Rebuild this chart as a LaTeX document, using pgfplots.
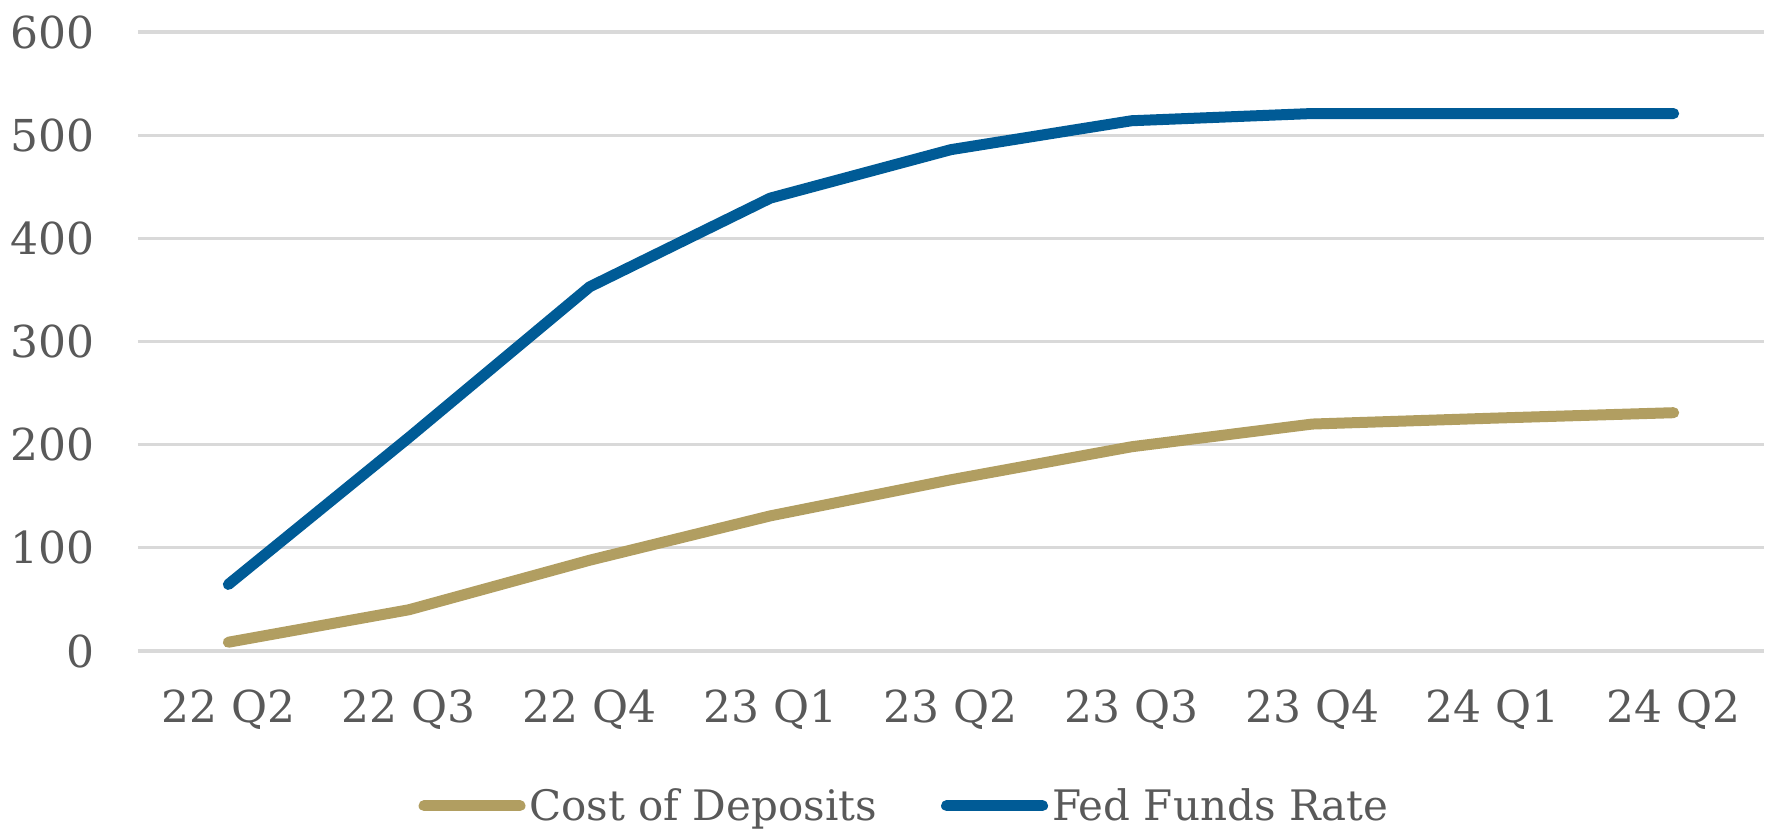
\documentclass[border=0pt]{standalone}
\usepackage{pgfplots}
\pgfplotsset{compat=1.18}
\usepackage{fontspec}
\setmainfont{DejaVu Serif}
\definecolor{fedblue}{HTML}{005B96}
\definecolor{gold}{HTML}{B19E61}
\definecolor{gridgray}{HTML}{D9D9D9}
\definecolor{txtgray}{HTML}{595959}
\begin{document}
\begin{tikzpicture}
\begin{axis}[
  at={(0pt,0pt)}, anchor=south west,
  scale only axis,
  width=813pt, height=309.5pt,
  xmin=-0.5, xmax=8.5,
  ymin=0, ymax=600,
  xtick={0,1,2,3,4,5,6,7,8},
  xticklabels={22 Q2,22 Q3,22 Q4,23 Q1,23 Q2,23 Q3,23 Q4,24 Q1,24 Q2},
  ytick={0,100,200,300,400,500,600},
  /pgf/number format/assume math mode=true,
  ymajorgrids,
  grid style={gridgray, line width=1.6pt},
  axis line style={draw=none},
  tick style={draw=none},
  ticklabel style={font=\fontsize{22}{26}\selectfont, text=txtgray},
  xticklabel style={yshift=-16pt},
  yticklabel style={xshift=-18pt},
  legend style={draw=none, fill=none, font=\fontsize{21}{25}\selectfont, text=txtgray,
    at={(0.472,-0.25)}, anchor=center, legend columns=2,
    /tikz/every even column/.append style={column sep=30pt},
    nodes={inner sep=2pt}},
  legend image code/.code={\draw[#1, line cap=round] (0pt,0pt) -- (48pt,0pt);},
  clip=false,
]
\addplot[gold, line width=5.5pt, line cap=round, line join=round] coordinates {
(0,8.5) (1,40) (2,88) (3,131) (4,166) (5,198) (6,220) (7,225.7) (8,231)};
\addlegendentry{Cost of Deposits}
\addplot[fedblue, line width=5.5pt, line cap=round, line join=round] coordinates {
(0,64.5) (1,207) (2,353) (3,439) (4,486) (5,514) (6,521) (7,521) (8,521)};
\addlegendentry{Fed Funds Rate}
\end{axis}
\path[use as bounding box] (-69pt,-90.5pt) rectangle (817.5pt,325.5pt);
\end{tikzpicture}
\end{document}
